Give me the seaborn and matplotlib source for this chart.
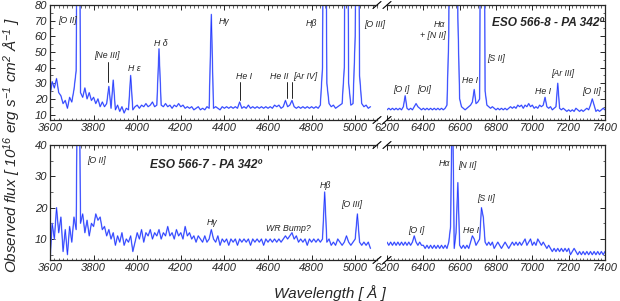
import numpy as np
import matplotlib
matplotlib.use("Agg")
import matplotlib.pyplot as plt
import seaborn as sns
from matplotlib.ticker import MultipleLocator

# ── Spectra (flux in 1e-16 erg/s/cm2/A), sampled every 10 A ──────────────────
BLUE_START, RED_START, STEP = 3600, 6200, 10

# ESO 566-8, 3600-5070 A
eso8_blue = [
    22, 31, 27, 33, 24, 22, 17, 19, 14, 21,     # 3600
    18, 26, 38, 300, 24, 21, 27, 20, 24, 19,    # 3700
    21, 17, 20, 15, 18, 15, 17, 28, 14, 32,     # 3800
    13, 16, 12, 15, 11, 14, 13, 35, 13, 15,     # 3900
    16, 14, 16, 15, 17, 15, 16, 18, 15, 16,     # 4000
    52, 16, 15, 17, 15, 16, 14, 16, 15, 17,     # 4100
    15, 16, 14, 15, 14, 15, 13, 14, 15, 13,     # 4200
    14, 13, 15, 14, 74, 14, 15, 14, 13, 15,     # 4300
    14, 15, 14, 15, 14, 15, 14, 18, 14, 15,     # 4400
    14, 16, 14, 15, 14, 15, 14, 15, 14, 15,     # 4500
    14, 15, 14, 16, 15, 16, 14, 15, 19, 15,     # 4600
    16, 19, 15, 14, 15, 14, 15, 14, 15, 14,     # 4700
    15, 14, 15, 14, 16, 40, 300, 30, 17, 15,    # 4800
    16, 14, 15, 16, 17, 40, 300, 30, 16, 17,    # 4900
    60, 300, 35, 17, 15, 16, 14, 15,            # 5000
]

# ESO 566-8, 6200-7400 A
eso8_red = [
    13, 14, 13, 14, 13, 14, 13, 14, 13, 15,     # 6200
    22, 14, 13, 14, 13, 15, 17, 15, 14, 13,     # 6300
    14, 13, 14, 13, 14, 13, 14, 13, 14, 13,     # 6400
    14, 13, 14, 16, 60, 300, 300, 300, 300, 72, # 6500
    20, 15, 14, 13, 14, 15, 16, 18, 26, 17,     # 6600
    18, 20, 300, 300, 25, 16, 15, 14, 15, 14,   # 6700
    13, 14, 13, 14, 13, 14, 13, 14, 15, 14,     # 6800
    15, 14, 16, 15, 16, 14, 16, 15, 17, 15,     # 6900
    16, 14, 15, 14, 16, 15, 16, 21, 15, 14,     # 7000
    15, 13, 14, 15, 30, 14, 13, 14, 13, 12,     # 7100
    13, 12, 13, 12, 14, 13, 12, 13, 12, 13,     # 7200
    14, 13, 16, 20, 16, 12, 13, 12, 13, 14,     # 7300
    13,                                         # 7400
]

# ESO 566-7, 3600-5070 A
eso7_blue = [
    3, 15, 10, 20, 12, 17, 6, 13, 5, 14,        # 3600
    9, 17, 13, 100, 15, 18, 12, 16, 11, 15,     # 3700
    14, 18, 16, 17, 13, 14, 11, 13, 10, 12,     # 3800
    8, 11, 9, 12, 8, 10, 9, 11, 6, 9,           # 3900
    12, 10, 13, 9, 12, 11, 13, 10, 12, 11,      # 4000
    13, 10, 12, 11, 14, 11, 12, 10, 13, 11,     # 4100
    12, 10, 14, 11, 12, 10, 11, 9, 11, 10,      # 4200
    9, 11, 9, 10, 13, 10, 9, 11, 8, 10,         # 4300
    9, 10, 8, 10, 9, 10, 8, 10, 9, 10,          # 4400
    9, 10, 8, 10, 9, 10, 9, 10, 8, 10,          # 4500
    9, 10, 9, 10, 9, 10, 9, 10, 11, 10,         # 4600
    11, 12, 10, 11, 9, 10, 9, 10, 8, 10,        # 4700
    9, 10, 9, 10, 9, 10, 25, 9, 10, 8,          # 4800
    9, 8, 10, 9, 8, 9, 11, 9, 8, 9,             # 4900
    10, 18, 9, 8, 9, 8, 9, 7,                   # 5000
]

# ESO 566-7, 6200-7400 A
eso7_red = [
    9, 8, 9, 8, 9, 8, 9, 8, 9, 8,               # 6200
    9, 8, 9, 8, 9, 11, 9, 8, 9, 8,              # 6300
    8, 7, 8, 7, 8, 7, 8, 7, 8, 7,               # 6400
    8, 7, 8, 7, 9, 14, 60, 7, 12, 28,           # 6500
    8, 7, 8, 7, 8, 7, 9, 11, 10, 8,             # 6600
    9, 10, 20, 17, 9, 8, 9, 8, 9, 7,            # 6700
    8, 9, 8, 7, 8, 9, 8, 7, 8, 9,               # 6800
    8, 9, 8, 9, 8, 9, 10, 8, 9, 10,             # 6900
    8, 9, 8, 10, 9, 8, 9, 8, 7, 8,              # 7000
    7, 6, 7, 6, 7, 6, 7, 6, 7, 6,               # 7100
    7, 5, 6, 7, 6, 5, 6, 5, 6, 5,               # 7200
    6, 5, 6, 5, 6, 5, 6, 5, 6, 5,               # 7300
    6,                                          # 7400
]

# line labels: (text, wavelength, flux)
labels_top_blue = [("[O II]", 3678, 70.4), ("[Ne III]", 3861, 48), ("H ε", 3985, 39.5),
                   ("H δ", 4109, 55.6), ("Hγ", 4398, 69.3), ("He I", 4490, 34.6),
                   ("He II", 4651, 34.6), ("[Ar IV]", 4770, 34.6), ("Hβ", 4800, 68.2),
                   ("[O III]", 5091, 67.6)]
ticks_top_blue = [(3866, 43.4, 30.5), (4472, 30.5, 19.5), (4687, 30.5, 20.5), (4711, 30.5, 20.5)]
labels_top_red = [("Hα", 6490, 67.8), ("+ [N II]", 6451, 60.3), ("[S II]", 6803, 45.5),
                  ("He I", 6658, 31.8), ("[O I]", 6276, 26), ("[OI]", 6402, 26),
                  ("He I", 7060, 25), ("[Ar III]", 7167, 36), ("[O II]", 7328, 25)]
labels_bot_blue = [("[O II]", 3812, 35), ("Hγ", 4342, 15.4), ("WR Bump?", 4695, 13.2),
                   ("Hβ", 4865, 27), ("[O III]", 4985, 21.1)]
labels_bot_red = [("[O I]", 6364, 12.7), ("Hα", 6515, 34.1), ("[N II]", 6643, 33.5),
                  ("He I", 6664, 12.8), ("[S II]", 6746, 23)]

# ── Style ─────────────────────────────────────────────────────────────────────
sns.set_style("ticks")
plt.rcParams.update({
    "font.family": ["Liberation Sans", "DejaVu Sans"],
    "font.style": "italic",
    "mathtext.fontset": "custom",
    "mathtext.it": "Liberation Sans:italic",
    "mathtext.rm": "Liberation Sans:italic",
    "mathtext.default": "it",
    "axes.linewidth": 0.9,
    "xtick.labelsize": 8,
    "ytick.labelsize": 8,
})

W, H = 620, 301
fig = plt.figure(figsize=(W / 100, H / 100), dpi=100)


def box(x0, y0, x1, y1):
    return [x0 / W, 1 - y1 / H, (x1 - x0) / W, (y1 - y0) / H]


ax_tl = fig.add_axes(box(50, 5, 377, 120))
ax_tr = fig.add_axes(box(387, 5, 605, 120))
ax_bl = fig.add_axes(box(50, 145, 377, 260))
ax_br = fig.add_axes(box(387, 145, 605, 260))

LIGHT, DARK = "#93a2ff", "#1f33ff"


def spectrum(ax, flux, start):
    wl = start + STEP * np.arange(len(flux))
    sns.lineplot(x=wl, y=flux, ax=ax, color=LIGHT, lw=1.1, sort=False)
    sns.lineplot(x=wl, y=flux, ax=ax, color=DARK, lw=0.5, sort=False)


spectrum(ax_tl, eso8_blue, BLUE_START)
spectrum(ax_tr, eso8_red, RED_START)
spectrum(ax_bl, eso7_blue, BLUE_START)
spectrum(ax_br, eso7_red, RED_START)

for ax in (ax_tl, ax_bl):
    ax.set_xlim(3600, 5100)
    ax.spines["right"].set_visible(False)
    ax.tick_params(which="both", direction="in", top=True, right=False)
for ax in (ax_tr, ax_br):
    ax.set_xlim(6200, 7400)
    ax.spines["left"].set_visible(False)
    ax.tick_params(which="both", direction="in", top=True, right=True,
                   left=False, labelleft=False)
for ax in (ax_tl, ax_tr):
    ax.set_ylim(6.5, 80)
for ax in (ax_bl, ax_br):
    ax.set_ylim(3.3, 40)

for ax in (ax_tl, ax_tr, ax_bl, ax_br):
    ax.xaxis.set_major_locator(MultipleLocator(200))
    ax.xaxis.set_minor_locator(MultipleLocator(20))
    ax.yaxis.set_major_locator(MultipleLocator(10))
    ax.yaxis.set_minor_locator(MultipleLocator(5))
    ax.tick_params(which="major", length=3.5, width=0.7, pad=2)
    ax.tick_params(which="minor", length=1.8, width=0.5)
    ax.set_xlabel("")
    ax.set_ylabel("")
    for t in ax.get_xticklabels() + ax.get_yticklabels():
        t.set_fontstyle("italic")

# break marks
for ax, xpos, wpx in ((ax_tl, 1, 327), (ax_bl, 1, 327), (ax_tr, 0, 218), (ax_br, 0, 218)):
    dx, dy = 4 / wpx, 3.5 / 115
    for y in (0, 1):
        ax.plot([xpos - dx, xpos + dx], [y - dy, y + dy], transform=ax.transAxes,
                color="black", lw=0.8, clip_on=False)

# line labels
for ax, items in ((ax_tl, labels_top_blue), (ax_tr, labels_top_red),
                  (ax_bl, labels_bot_blue), (ax_br, labels_bot_red)):
    for txt, x, y in items:
        ax.text(x, y, txt, ha="center", va="center", fontsize=6.3, style="italic")
for x, y0, y1 in ticks_top_blue:
    ax_tl.plot([x, x], [y0, y1], color="black", lw=0.6)

ax_tr.text(7392, 68.4, "ESO 566-8 - PA 342º", ha="right", va="center",
           fontsize=8.6, fontweight="bold", style="italic")
ax_bl.text(4059, 33.6, "ESO 566-7 - PA 342º", ha="left", va="center",
           fontsize=8.6, fontweight="bold", style="italic")

fig.text(330 / W, 1 - 293 / H, "Wavelength [ Å ]", ha="center", va="center",
         fontsize=11, style="italic")
fig.text(12 / W, 1 - 145 / H,
         "Observed flux [ 10$^{16}$ erg s$^{-1}$ cm$^{2}$ Å$^{-1}$ ]",
         ha="center", va="center", rotation=90, fontsize=11, style="italic")

fig.savefig("out.png", dpi=100)
